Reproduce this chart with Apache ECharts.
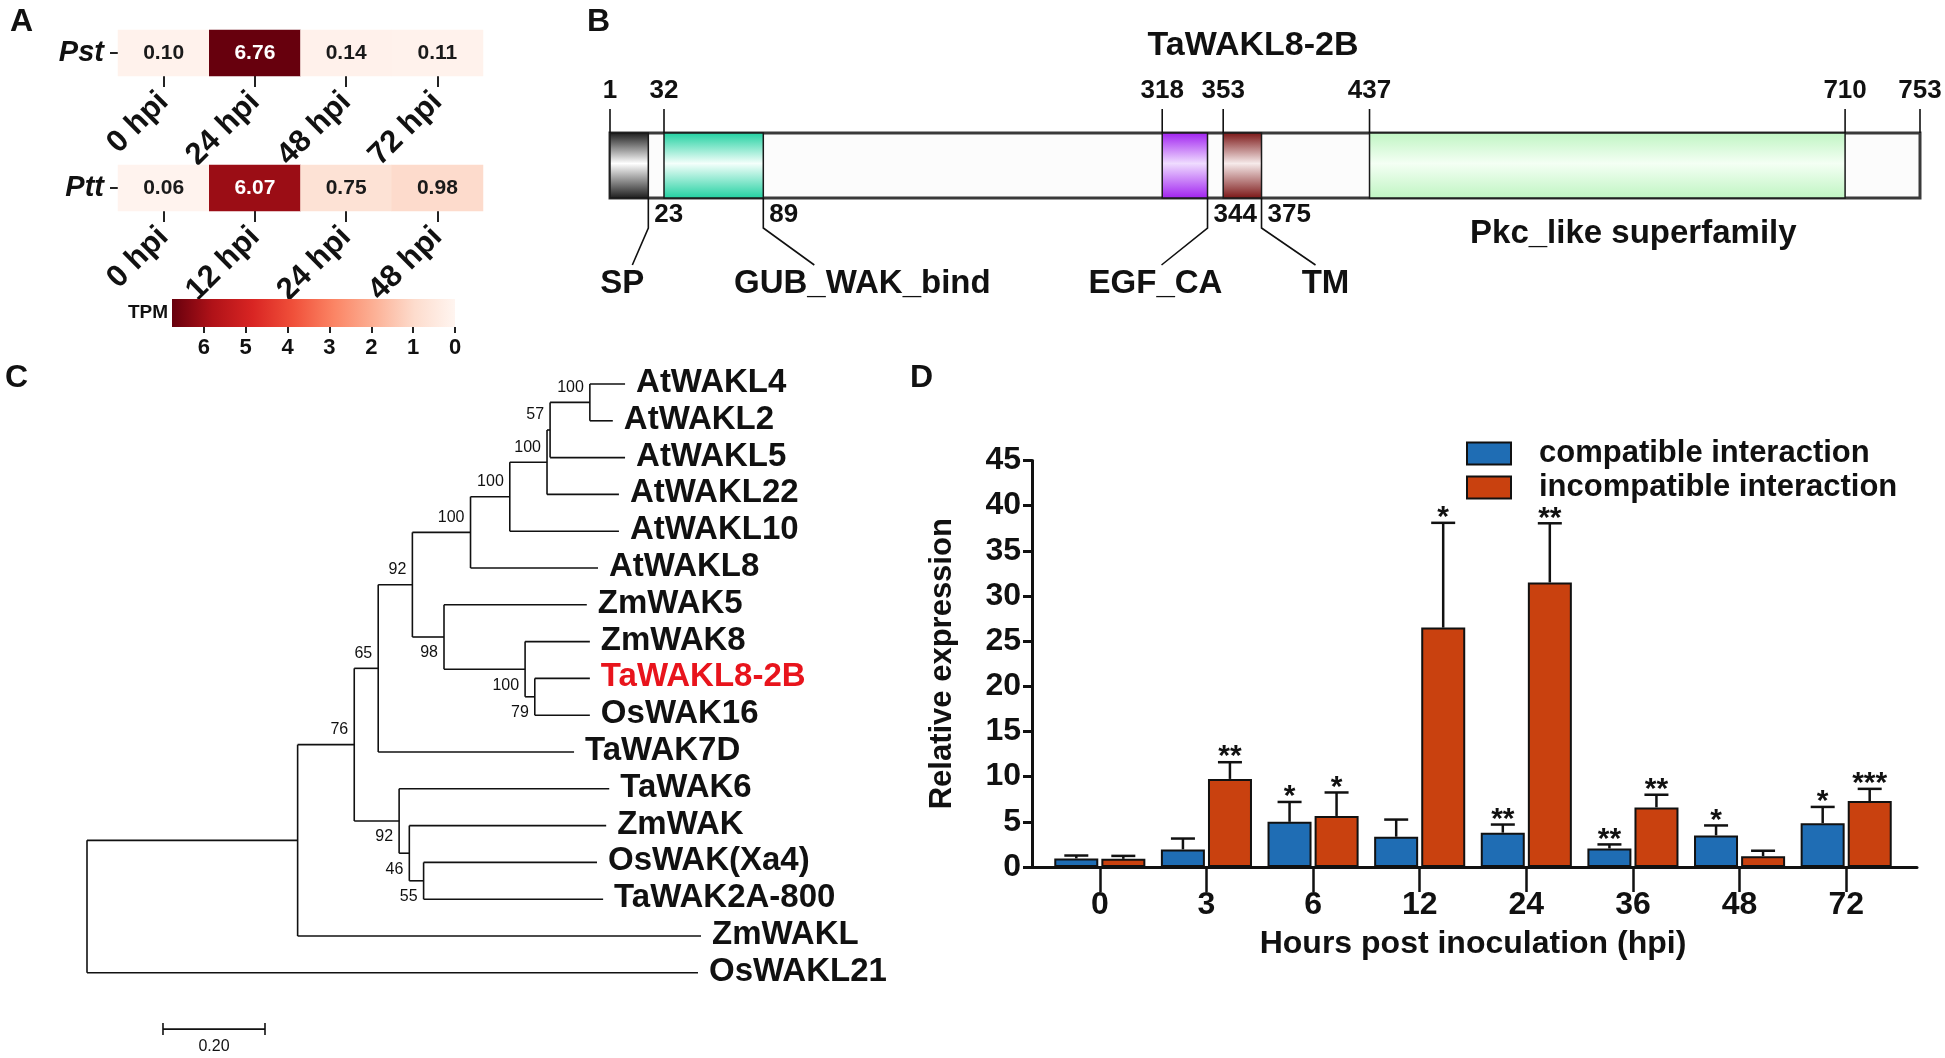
<!DOCTYPE html>
<html><head><meta charset="utf-8">
<script src="https://cdn.jsdelivr.net/npm/echarts@6/dist/echarts.min.js"></script>
<style>html,body{margin:0;padding:0;background:#fff;}#chart{width:1945px;height:1058px;}</style>
</head><body><div id="chart"></div>
<script>
// ---------------- Panel A data ----------------
const pstTimes = ['0 hpi', '24 hpi', '48 hpi', '72 hpi'];
const pstTPM = [0.10, 6.76, 0.14, 0.11];
const pttTimes = ['0 hpi', '12 hpi', '24 hpi', '48 hpi'];
const pttTPM = [0.06, 6.07, 0.75, 0.98];
const tpmMax = 6.76;
const tpmTicks = [0, 1, 2, 3, 4, 5, 6];

// ---------------- Panel B data ----------------
const proteinName = 'TaWAKL8-2B';
const proteinLength = 753;
const domainNames = ['SP', 'GUB_WAK_bind', 'EGF_CA', 'TM', 'Pkc_like superfamily'];
const domainStart = [1, 32, 318, 353, 437];
const domainEnd = [23, 89, 344, 375, 710];
const topMarks = [1, 32, 318, 353, 437, 710, 753];
const bottomMarks = [23, 89, 344, 375];

// ---------------- Panel C data ----------------
const leafNames = ['AtWAKL4', 'AtWAKL2', 'AtWAKL5', 'AtWAKL22', 'AtWAKL10', 'AtWAKL8', 'ZmWAK5', 'ZmWAK8',
  'TaWAKL8-2B', 'OsWAK16', 'TaWAK7D', 'TaWAK6', 'ZmWAK', 'OsWAK(Xa4)', 'TaWAK2A-800', 'ZmWAKL', 'OsWAKL21'];
// distance of each leaf from the root
const leafDepth = [1.055, 1.031, 1.055, 1.043, 1.043, 1.002, 0.980, 0.986, 0.986, 0.986, 0.955, 1.024, 1.018, 1.000, 1.012, 1.204, 1.198];
// internal nodes (ids start after the leaves), children listed top to bottom
const nodeChildren = [[0, 1], [17, 2], [18, 3], [19, 4], [20, 5], [8, 9], [7, 22], [6, 23], [21, 24], [25, 10],
  [13, 14], [12, 27], [11, 28], [26, 29], [30, 15], [31, 16]];
const nodeDepth = [0.986, 0.908, 0.902, 0.829, 0.752, 0.878, 0.859, 0.700, 0.638, 0.571, 0.660, 0.632, 0.612, 0.524, 0.413, 0.0];
const nodeSupport = [100, 57, 100, 100, 100, 79, 100, 98, 92, 65, 55, 46, 92, 76, null, null];
const highlightLeaf = 'TaWAKL8-2B';
const scaleBarStart = 0.149;
const scaleBarLength = 0.20;
const scaleBarRow = 17.53;

// ---------------- Panel D data ----------------
const hpiCategories = ['0', '3', '6', '12', '24', '36', '48', '72'];
const compatMean = [0.95, 1.95, 5.0, 3.35, 3.8, 2.05, 3.5, 4.85];
const compatSD = [0.32, 1.2, 2.2, 1.9, 0.9, 0.45, 1.1, 1.8];
const compatSig = ['', '', '*', '', '**', '**', '*', '*'];
const incompatMean = [0.9, 9.75, 5.65, 26.5, 31.5, 6.6, 1.2, 7.3];
const incompatSD = [0.33, 1.85, 2.6, 11.6, 6.55, 1.4, 0.6, 1.35];
const incompatSig = ['', '**', '*', '*', '**', '**', '', '***'];
const seriesNames = ['compatible interaction', 'incompatible interaction'];

// ---------------- styles ----------------
const FONT = "'Liberation Sans', Arial, Helvetica, sans-serif";
const font = (size, weight = 'bold', style = 'normal') => `${style} ${weight} ${size}px ${FONT}`;
const INK = '#111';
const heatColors = ['#fff5f0', '#fddccd', '#fcb095', '#fb8464', '#f0503a', '#d92523', '#b01218', '#67000d'];
const domainDark = ['#1a1a1a', '#1fd0a0', '#a020f0', '#7a1414', '#bff5c2'];
const domainLight = ['#ffffff', '#f4fffb', '#efdcff', '#f6eaea', '#f4fff4'];
const calloutDx = [-16, 51, -46, 54];
const nameDx = [-10, 48, -6, 10];
const BAR_W = 44, BAR_STEP = 23.5;

const chart = echarts.init(document.getElementById('chart'), null, { renderer: 'canvas' });

// tree geometry from data
const NL = leafNames.length;
const nodeX = leafDepth.slice();
const nodeY = leafNames.map((_, i) => i);
const firstChild = {};
nodeChildren.forEach((ch, k) => {
  const id = NL + k;
  nodeX[id] = nodeDepth[k];
  nodeY[id] = (nodeY[ch[0]] + nodeY[ch[ch.length - 1]]) / 2;
  ch.forEach((c, j) => { firstChild[c] = (j === 0); });
});
const treeData = nodeX.map((x, id) => [x, nodeY[id], id]);

function heatData(arr) {
  return arr.map((v, i) => ({ value: [i, 0, v], label: { color: v > 3 ? '#fff' : '#1a1a1a' } }));
}

function heatAxisX(idx, cats) {
  return {
    gridIndex: idx, type: 'category', data: cats,
    axisLine: { show: false },
    axisTick: { show: true, alignWithLabel: true, length: 11, lineStyle: { color: '#222', width: 2 } },
    axisLabel: { interval: 0, rotate: 45, margin: 21, fontSize: 31, fontWeight: 'bold', color: INK, fontFamily: FONT },
    splitLine: { show: false }
  };
}
function heatAxisY(idx, name) {
  return {
    gridIndex: idx, type: 'category', data: [name],
    axisLine: { show: false },
    axisTick: { show: true, alignWithLabel: true, length: 8, lineStyle: { color: '#222', width: 2 } },
    axisLabel: { margin: 14, fontSize: 29, fontWeight: 'bold', fontStyle: 'italic', color: INK, fontFamily: FONT },
    splitLine: { show: false }
  };
}
const hidden = (gi, extra) => Object.assign({ gridIndex: gi, type: 'value', show: false, splitLine: { show: false } }, extra);

function errRender(sign, sigArr) {
  return function (params, api) {
    const idx = api.value(0), m = api.value(1), u = api.value(2);
    const p0 = api.coord([idx, m]);
    const p1 = api.coord([idx, u]);
    const x = p0[0] + sign * BAR_STEP;
    const els = [
      { type: 'line', shape: { x1: x, y1: p0[1], x2: x, y2: p1[1] }, style: { stroke: INK, lineWidth: 2.5 } },
      { type: 'line', shape: { x1: x - 12, y1: p1[1], x2: x + 12, y2: p1[1] }, style: { stroke: INK, lineWidth: 2.5 } }
    ];
    const s = sigArr[params.dataIndex];
    if (s) els.push({ type: 'text', x: x, y: p1[1] + 10, style: { text: s, fill: INK, font: font(30), align: 'center', textAlign: 'center', verticalAlign: 'bottom', textVerticalAlign: 'bottom' } });
    return { type: 'group', children: els };
  };
}

const txt = (x, y, text, f, align, valign, fill) => ({
  type: 'text', x: x, y: y,
  style: { text: text, fill: fill || INK, font: f, align: align, textAlign: align, verticalAlign: valign, textVerticalAlign: valign }
});

const option = {
  animation: false,
  backgroundColor: '#fff',
  textStyle: { fontFamily: FONT },
  grid: [
    { left: 118, top: 30, width: 365, height: 46 },
    { left: 118, top: 165, width: 365, height: 46 },
    { left: 172, top: 299, width: 283, height: 28 },
    { left: 610, top: 133, width: 1310, height: 65 },
    { left: 87, top: 384, width: 714, height: 662.4 },
    { left: 1032, top: 460.5, width: 885, height: 406.5 },
    { left: 1046.5, top: 460.5, width: 853, height: 406.5 }
  ],
  xAxis: [
    heatAxisX(0, pstTimes),
    heatAxisX(1, pttTimes),
    {
      gridIndex: 2, type: 'value', min: 0, max: tpmMax, inverse: true,
      axisLine: { show: false }, splitLine: { show: false },
      axisTick: { show: true, length: 6, customValues: tpmTicks, lineStyle: { color: '#222', width: 2 } },
      axisLabel: { customValues: tpmTicks, margin: 10, fontSize: 22, fontWeight: 'bold', color: INK }
    },
    hidden(3, { min: 1, max: proteinLength }),
    hidden(4, { min: 0, max: 1.4 }),
    {
      gridIndex: 5, type: 'value', min: 0, max: 1,
      axisLine: { show: true, onZero: false, lineStyle: { color: INK, width: 3 } },
      axisTick: { show: false }, axisLabel: { show: false }, splitLine: { show: false }
    },
    {
      gridIndex: 6, type: 'category', data: hpiCategories,
      axisLine: { show: false },
      axisTick: { show: true, alignWithLabel: true, length: 25, lineStyle: { color: INK, width: 2.5 } },
      axisLabel: { interval: 0, margin: 22, fontSize: 32, fontWeight: 'bold', color: INK },
      name: 'Hours post inoculation (hpi)', nameLocation: 'middle', nameGap: 61,
      nameTextStyle: { fontSize: 32, fontWeight: 'bold', color: INK }
    }
  ],
  yAxis: [
    heatAxisY(0, 'Pst'),
    heatAxisY(1, 'Ptt'),
    hidden(2, { min: 0, max: 1 }),
    hidden(3, { min: 0, max: 1 }),
    hidden(4, { min: 0, max: 18, inverse: true }),
    {
      gridIndex: 5, type: 'value', min: 0, max: 45, interval: 5,
      axisLine: { show: true, lineStyle: { color: INK, width: 3 } },
      axisTick: { show: true, length: 9, lineStyle: { color: INK, width: 3 } },
      axisLabel: { margin: 11, fontSize: 32, fontWeight: 'bold', color: INK },
      splitLine: { show: false },
      name: 'Relative expression', nameLocation: 'middle', nameGap: 74,
      nameTextStyle: { fontSize: 31, fontWeight: 'bold', color: INK }
    },
    hidden(6, { min: 0, max: 45 })
  ],
  visualMap: {
    type: 'continuous', show: false, min: 0, max: tpmMax, dimension: 2, seriesIndex: [0, 1],
    inRange: { color: heatColors }
  },
  legend: {
    data: seriesNames, orient: 'vertical', left: 1461, top: 433,
    itemWidth: 44, itemHeight: 22, itemGap: 3, icon: 'rect',
    itemStyle: { borderColor: INK, borderWidth: 2 },
    textStyle: { fontSize: 31, fontWeight: 'bold', color: INK, padding: [0, 0, 0, 23], lineHeight: 24 }
  },
  graphic: [
    txt(10, 6, 'A', font(32), 'left', 'top'),
    txt(587, 6, 'B', font(32), 'left', 'top'),
    txt(5, 362, 'C', font(32), 'left', 'top'),
    txt(910, 362, 'D', font(32), 'left', 'top'),
    txt(168, 313, 'TPM', font(19), 'right', 'middle'),
    txt(1253, 46, proteinName, font(34), 'center', 'middle')
  ],
  series: [
    {
      type: 'heatmap', xAxisIndex: 0, yAxisIndex: 0, data: heatData(pstTPM),
      label: { show: true, fontSize: 21, fontWeight: 'bold', formatter: p => p.value[2].toFixed(2) },
      itemStyle: { borderWidth: 0 }
    },
    {
      type: 'heatmap', xAxisIndex: 1, yAxisIndex: 1, data: heatData(pttTPM),
      label: { show: true, fontSize: 21, fontWeight: 'bold', formatter: p => p.value[2].toFixed(2) },
      itemStyle: { borderWidth: 0 }
    },
    {
      // colour bar of the TPM scale
      type: 'custom', xAxisIndex: 2, yAxisIndex: 2, data: [[0, 0]], silent: true,
      renderItem: (params) => {
        const cs = params.coordSys;
        const n = heatColors.length;
        const stops = heatColors.map((c, k) => ({ offset: 1 - k / (n - 1), color: c }));
        stops.sort((a, b) => a.offset - b.offset);
        return { type: 'rect', shape: { x: cs.x, y: cs.y, width: cs.width, height: cs.height },
          style: { fill: new echarts.graphic.LinearGradient(0, 0, 1, 0, stops) } };
      }
    },
    {
      // protein backbone
      type: 'custom', xAxisIndex: 3, yAxisIndex: 3, clip: false, silent: true, data: [[1, proteinLength]],
      renderItem: (params, api) => {
        const a = api.coord([api.value(0), 1]), b = api.coord([api.value(1), 0]);
        return { type: 'rect', shape: { x: a[0], y: a[1], width: b[0] - a[0], height: b[1] - a[1] },
          style: { fill: '#fcfcfc', stroke: '#3a3a3a', lineWidth: 3 } };
      }
    },
    {
      // domains
      type: 'custom', xAxisIndex: 3, yAxisIndex: 3, clip: false, silent: true,
      data: domainStart.map((s, i) => [s, domainEnd[i], i]),
      renderItem: (params, api) => {
        const i = api.value(2);
        const a = api.coord([api.value(0), 1]), b = api.coord([api.value(1), 0]);
        const els = [{ type: 'rect', shape: { x: a[0], y: a[1], width: b[0] - a[0], height: b[1] - a[1] },
          style: { fill: new echarts.graphic.LinearGradient(0, 0, 0, 1, [
            { offset: 0, color: domainDark[i] }, { offset: 0.47, color: domainLight[i] }, { offset: 1, color: domainDark[i] }]),
            stroke: '#1a1a1a', lineWidth: 1.5 } }];
        if (i === domainNames.length - 1) {
          els.push(txt((a[0] + b[0]) / 2 + 26, b[1] + 36, domainNames[i], font(33), 'center', 'middle'));
        }
        return { type: 'group', children: els };
      }
    },
    {
      // position marks above the protein
      type: 'custom', xAxisIndex: 3, yAxisIndex: 3, clip: false, silent: true,
      data: topMarks.map(p => [p, 1]),
      renderItem: (params, api) => {
        const p = api.coord([api.value(0), 1]);
        return { type: 'group', children: [
          { type: 'line', shape: { x1: p[0], y1: p[1] - 24, x2: p[0], y2: p[1] }, style: { stroke: INK, lineWidth: 1.6 } },
          txt(p[0], p[1] - 42, String(api.value(0)), font(26), 'center', 'middle')
        ] };
      }
    },
    {
      // position marks and domain call-outs below the protein
      type: 'custom', xAxisIndex: 3, yAxisIndex: 3, clip: false, silent: true,
      data: bottomMarks.map((p, i) => [p, 0, i]),
      renderItem: (params, api) => {
        const i = api.value(2);
        const p = api.coord([api.value(0), 0]);
        const x = p[0], y = p[1];
        return { type: 'group', children: [
          { type: 'polyline', shape: { points: [[x, y], [x, y + 30], [x + calloutDx[i], y + 67]] }, style: { stroke: INK, lineWidth: 1.6, fill: 'none' } },
          txt(x + 6, y + 17, String(api.value(0)), font(26), 'left', 'middle'),
          txt(x + calloutDx[i] + nameDx[i], y + 86, domainNames[i], font(33), 'center', 'middle')
        ] };
      }
    },
    {
      // phylogenetic tree
      type: 'custom', xAxisIndex: 4, yAxisIndex: 4, clip: false, silent: true, data: treeData,
      renderItem: (params, api) => {
        const id = api.value(2);
        const pt = api.coord([api.value(0), api.value(1)]);
        const els = [];
        if (id < NL) {
          const name = leafNames[id];
          els.push(txt(pt[0] + 11, pt[1] - 1, name, font(33), 'left', 'middle', name === highlightLeaf ? '#e8141c' : INK));
        } else {
          const ch = nodeChildren[id - NL];
          const t = api.coord([nodeX[id], nodeY[ch[0]]]);
          const b = api.coord([nodeX[id], nodeY[ch[ch.length - 1]]]);
          els.push({ type: 'line', shape: { x1: pt[0], y1: t[1], x2: pt[0], y2: b[1] }, style: { stroke: INK, lineWidth: 1.6 } });
          ch.forEach(c => {
            const cp = api.coord([nodeX[c], nodeY[c]]);
            els.push({ type: 'line', shape: { x1: pt[0], y1: cp[1], x2: cp[0], y2: cp[1] }, style: { stroke: INK, lineWidth: 1.6 } });
          });
          const sup = nodeSupport[id - NL];
          if (sup != null) {
            els.push(txt(pt[0] - 6, pt[1] + (firstChild[id] ? -15 : 16), String(sup), font(16, 'normal'), 'right', 'middle'));
          }
        }
        return { type: 'group', children: els };
      }
    },
    {
      // tree scale bar
      type: 'custom', xAxisIndex: 4, yAxisIndex: 4, clip: false, silent: true,
      data: [[scaleBarStart, scaleBarRow, scaleBarStart + scaleBarLength]],
      renderItem: (params, api) => {
        const a = api.coord([api.value(0), api.value(1)]);
        const b = api.coord([api.value(2), api.value(1)]);
        return { type: 'group', children: [
          { type: 'line', shape: { x1: a[0], y1: a[1], x2: b[0], y2: b[1] }, style: { stroke: INK, lineWidth: 1.6 } },
          { type: 'line', shape: { x1: a[0], y1: a[1] - 6, x2: a[0], y2: a[1] + 6 }, style: { stroke: INK, lineWidth: 1.6 } },
          { type: 'line', shape: { x1: b[0], y1: b[1] - 6, x2: b[0], y2: b[1] + 6 }, style: { stroke: INK, lineWidth: 1.6 } },
          txt((a[0] + b[0]) / 2, a[1] + 17, scaleBarLength.toFixed(2), font(16, 'normal'), 'center', 'middle')
        ] };
      }
    },
    {
      name: seriesNames[0], type: 'bar', xAxisIndex: 6, yAxisIndex: 6, data: compatMean,
      barWidth: BAR_W, barGap: '7%',
      itemStyle: { color: '#1f6db4', borderColor: INK, borderWidth: 2 }
    },
    {
      name: seriesNames[1], type: 'bar', xAxisIndex: 6, yAxisIndex: 6, data: incompatMean,
      barWidth: BAR_W, barGap: '7%',
      itemStyle: { color: '#c9410f', borderColor: INK, borderWidth: 2 }
    },
    {
      type: 'custom', xAxisIndex: 6, yAxisIndex: 6, clip: false, silent: true, z: 3,
      data: compatMean.map((m, i) => [i, m, m + compatSD[i]]),
      renderItem: errRender(-1, compatSig)
    },
    {
      type: 'custom', xAxisIndex: 6, yAxisIndex: 6, clip: false, silent: true, z: 3,
      data: incompatMean.map((m, i) => [i, m, m + incompatSD[i]]),
      renderItem: errRender(1, incompatSig)
    }
  ]
};
chart.setOption(option);
</script>
</body></html>
